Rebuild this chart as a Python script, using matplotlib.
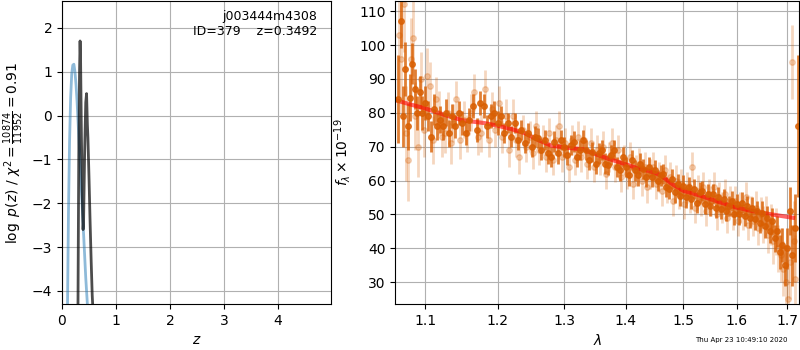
import matplotlib
matplotlib.use('Agg')
import matplotlib.pyplot as plt
from matplotlib.ticker import ScalarFormatter, NullFormatter

# redshift fit: log p(z) and chi2-based curve
z_prior = [0.10, 0.12, 0.14, 0.16, 0.18, 0.20, 0.22, 0.24, 0.26, 0.28, 0.30,
           0.32, 0.34, 0.36, 0.38, 0.40, 0.42, 0.44, 0.46, 0.48]
logp_prior = [-4.6, -2.2, -0.6, 0.4, 0.95, 1.15, 1.17, 1.0, 0.7, 0.3, -0.2,
              -0.7, -1.2, -1.7, -2.2, -2.7, -3.2, -3.7, -4.1, -4.5]

z_fit = [0.295, 0.31, 0.325, 0.335, 0.345, 0.36, 0.375, 0.39, 0.40, 0.42,
         0.44, 0.455, 0.47, 0.48, 0.50, 0.52, 0.54, 0.56, 0.58]
logp_fit = [-4.6, -1.0, 1.0, 1.7, 1.2, -0.5, -1.8, -2.6, -2.4, -0.8,
            0.3, 0.5, -0.2, -0.5, -1.4, -2.4, -3.3, -4.1, -4.6]

# spectrum, first orientation (dark points)
wave_a = [1.065, 1.068, 1.071, 1.074, 1.077, 1.080, 1.083, 1.086, 1.089, 1.093,
          1.096, 1.100, 1.104, 1.108, 1.112, 1.116, 1.120, 1.124, 1.128, 1.132,
          1.136, 1.140, 1.145, 1.150, 1.155, 1.160, 1.165, 1.170, 1.175, 1.180,
          1.185, 1.190, 1.195, 1.200, 1.205, 1.210, 1.215, 1.220, 1.225, 1.230,
          1.235, 1.240, 1.245, 1.250, 1.255, 1.260, 1.265, 1.270, 1.275, 1.280,
          1.285, 1.290, 1.295, 1.300, 1.305, 1.310, 1.315, 1.320, 1.325, 1.330,
          1.335, 1.340, 1.345, 1.350, 1.355, 1.360, 1.365, 1.370, 1.375, 1.380,
          1.385, 1.390, 1.395, 1.400, 1.405, 1.410, 1.415, 1.420, 1.425, 1.430,
          1.435, 1.440, 1.445, 1.450, 1.455, 1.460, 1.465, 1.470, 1.475, 1.480,
          1.485, 1.490, 1.495, 1.500, 1.505, 1.510, 1.515, 1.520, 1.525, 1.530,
          1.535, 1.540, 1.545, 1.550, 1.555, 1.560, 1.565, 1.570, 1.575, 1.580,
          1.585, 1.590, 1.595, 1.600, 1.605, 1.610, 1.615, 1.620, 1.625, 1.630,
          1.635, 1.640, 1.645, 1.650, 1.655, 1.660, 1.665, 1.670, 1.675, 1.680,
          1.685, 1.690, 1.695, 1.700, 1.705, 1.710, 1.715, 1.722]
flux_a = [84, 107, 79, 93, 76, 84.5, 94.5, 87, 80, 86,
          80, 83, 79, 73, 81, 76, 78, 76, 80, 74,
          79, 76, 80, 77, 74, 78, 82, 75, 83, 82,
          76, 79, 80, 77, 79, 74, 77, 73, 77, 72,
          75, 71, 74, 70, 73, 72.5, 69, 72, 68, 67,
          71.5, 68, 72, 70, 67.5, 70.5, 71.5, 67, 69, 72,
          69, 66, 68.5, 65, 68, 69, 65, 64.5, 67.5, 69,
          64, 63, 67, 64, 61.5, 66, 63, 61.5, 65, 63.5,
          61, 64, 61, 63, 60, 61.5, 62, 58, 57.5, 60.5,
          56.5, 59, 55.5, 58.5, 55, 58, 54.5, 57.5, 53.5, 56.5,
          57, 53, 56, 52.5, 56, 52, 55, 51.5, 54.5, 51,
          52.5, 54, 50, 53, 50, 53.5, 49.5, 52.5, 49, 52,
          48.5, 51, 47.5, 50.5, 46.5, 49, 45, 48, 43, 45,
          39, 41, 35, 40, 51, 38, 46, 76]
err_a = [13, 8, 9, 8, 7, 7, 6, 6, 5, 5,
         5, 5, 4.5, 4.5, 4.5, 4, 4, 4, 4, 4,
         3.5, 3.5, 3.5, 3.5, 3.5, 3.5, 3.5, 3.5, 3.5, 3.5,
         3.5, 3.5, 3.5, 3.5, 3, 3, 3, 3, 3, 3,
         3, 3, 3, 3, 3, 3, 3, 3, 3, 3,
         3, 3, 3, 3, 3, 3, 3, 3, 3, 3,
         3, 3, 3, 3, 3, 3, 3, 3, 3, 3,
         3, 3, 3, 3, 3, 3, 3, 3, 3, 3,
         3, 3, 3, 3, 3, 3, 3, 3, 3, 3,
         3, 3, 3, 3, 3, 3, 3, 3, 3, 3,
         3, 3, 3, 3, 3, 3, 3, 3, 3, 3,
         3, 3, 3, 3, 3, 3, 3, 3, 3, 3,
         3, 3, 3, 3.5, 3.5, 3.5, 3.5, 4, 4, 4.5,
         5, 5, 6, 6, 7, 9, 10, 21]

# spectrum, second orientation (light points)
wave_b = [1.066, 1.069, 1.072, 1.075, 1.078, 1.081, 1.084, 1.087, 1.091, 1.094,
          1.098, 1.102, 1.106, 1.110, 1.114, 1.118, 1.122, 1.126, 1.130, 1.134,
          1.138, 1.142, 1.147, 1.152, 1.157, 1.162, 1.167, 1.172, 1.177, 1.182,
          1.187, 1.192, 1.197, 1.202, 1.207, 1.212, 1.217, 1.222, 1.227, 1.232,
          1.237, 1.242, 1.247, 1.252, 1.257, 1.262, 1.267, 1.272, 1.277, 1.282,
          1.287, 1.292, 1.297, 1.302, 1.307, 1.312, 1.317, 1.322, 1.327, 1.332,
          1.337, 1.342, 1.347, 1.352, 1.357, 1.362, 1.367, 1.372, 1.377, 1.382,
          1.387, 1.392, 1.397, 1.402, 1.407, 1.412, 1.417, 1.422, 1.427, 1.432,
          1.437, 1.442, 1.447, 1.452, 1.457, 1.462, 1.467, 1.472, 1.477, 1.482,
          1.487, 1.492, 1.497, 1.502, 1.507, 1.512, 1.517, 1.522, 1.527, 1.532,
          1.537, 1.542, 1.547, 1.552, 1.557, 1.562, 1.567, 1.572, 1.577, 1.582,
          1.587, 1.592, 1.597, 1.602, 1.607, 1.612, 1.617, 1.622, 1.627, 1.632,
          1.637, 1.642, 1.647, 1.652, 1.657, 1.662, 1.667, 1.672, 1.677, 1.682,
          1.687, 1.692, 1.697, 1.702, 1.706, 1.709, 1.713, 1.717]
flux_b = [103, 96, 112, 74, 66, 96, 102, 79, 70, 90,
          75, 91, 88, 72, 84, 80, 73, 74, 80, 71,
          77, 84, 72, 78, 74, 80, 86, 73, 74, 87,
          72, 81, 75, 83, 73, 79, 69, 79, 72, 67,
          75, 70, 73, 68, 76, 69, 72, 67, 74, 66,
          72, 76, 67, 71, 64, 72, 66, 73, 67, 72,
          65, 71, 64, 69, 66, 70, 62, 67, 71, 64,
          69, 61, 66, 62, 67, 59, 63, 65, 60, 64,
          58, 62, 64, 59, 61, 57, 63, 58, 61, 54,
          60, 56, 59, 53, 58, 55, 64, 52, 57, 54,
          58, 51, 56, 54, 58, 50, 55, 52, 56, 49,
          54, 50, 54, 48, 52, 50, 55, 47, 51, 48,
          52, 46, 50, 47, 50, 44, 47, 42, 45, 40,
          38, 34, 30, 25, 36, 95, 42, 31]
err_b = [18, 16, 14, 14, 12, 12, 11, 10, 9, 8,
         8, 8, 7, 7, 6.5, 6.5, 6, 6, 6, 6,
         5.5, 5.5, 5.5, 5.5, 5.5, 5.5, 5.5, 5.5, 5.5, 5.5,
         5, 5, 5, 5, 5, 5, 5, 5, 5, 5,
         4.5, 4.5, 4.5, 4.5, 4.5, 4.5, 4.5, 4.5, 4.5, 4.5,
         4.5, 4.5, 4.5, 4.5, 4.5, 4.5, 4.5, 4.5, 4.5, 4.5,
         4.5, 4.5, 4.5, 4.5, 4.5, 4.5, 4.5, 4.5, 4.5, 4.5,
         4.5, 4.5, 4.5, 4.5, 4.5, 4.5, 4.5, 4.5, 4.5, 4.5,
         4.5, 4.5, 4.5, 4.5, 4.5, 4.5, 4.5, 4.5, 4.5, 4.5,
         4.5, 4.5, 4.5, 4.5, 4.5, 4.5, 4.5, 4.5, 4.5, 4.5,
         4.5, 4.5, 4.5, 4.5, 4.5, 4.5, 4.5, 4.5, 4.5, 4.5,
         4.5, 4.5, 4.5, 4.5, 4.5, 4.5, 4.5, 4.5, 4.5, 4.5,
         5, 5, 5, 5.5, 5.5, 5.5, 6, 6.5, 7, 7,
         8, 8, 9, 10, 11, 11, 12, 13]

# best-fit model
wave_model = [1.065, 1.08, 1.10, 1.12, 1.15, 1.18, 1.20, 1.22, 1.24, 1.26,
              1.28, 1.30, 1.33, 1.35, 1.37, 1.40, 1.42, 1.44, 1.46, 1.48,
              1.50, 1.53, 1.56, 1.60, 1.63, 1.66, 1.69, 1.712]
flux_model = [83.5, 82.5, 81.3, 79.8, 77.8, 77.0, 76.2, 75.2, 74.0, 72.0,
              70.3, 69.8, 69.2, 67.8, 66.5, 64.8, 63.6, 62.8, 61.6, 59.0,
              57.0, 55.6, 54.0, 52.0, 51.0, 50.2, 49.5, 49.0]

fig = plt.figure(figsize=(8, 3.5), dpi=100)

ax1 = fig.add_axes([0.0775, 0.131, 0.336, 0.866])
ax1.plot(z_prior, logp_prior, color='#1f77b4', alpha=0.5, lw=2)
ax1.plot(z_fit, logp_fit, color='k', alpha=0.7, lw=2)
ax1.set_xlim(0, 4.98)
ax1.set_ylim(-4.3, 2.61)
ax1.set_xticks([0, 1, 2, 3, 4])
ax1.grid(True)
ax1.set_xlabel('$z$')
ax1.set_ylabel(r'$\log\ p(z)$' + ' / ' + r'$\chi^2=\frac{10874}{11952}=0.91$')
ax1.text(0.95, 0.97, 'j003444m4308\nID=379    z=0.3492', transform=ax1.transAxes,
         ha='right', va='top', fontsize=9)

ax2 = fig.add_axes([0.494, 0.131, 0.505, 0.866])
ax2.errorbar(wave_b, flux_b, err_b, marker='o', ms=4, linestyle='none',
             color='#d95f02', alpha=0.25, elinewidth=2)
ax2.errorbar(wave_a, flux_a, err_a, marker='o', ms=4, linestyle='none',
             color='#d95f02', alpha=0.8, elinewidth=2)
ax2.plot(wave_model, flux_model, color='r', alpha=0.6, lw=3)
ax2.set_xscale('log')
ax2.set_xlim(1.061, 1.7247)
ax2.set_ylim(23.5, 113)
ax2.set_xticks([1.1, 1.2, 1.3, 1.4, 1.5, 1.6, 1.7])
ax2.xaxis.set_major_formatter(ScalarFormatter())
ax2.xaxis.set_minor_formatter(NullFormatter())
ax2.minorticks_off()
ax2.grid(True)
ax2.set_xlabel(r'$\lambda$')
ax2.set_ylabel(r'$f_\lambda \times 10^{-19}$')

fig.text(0.985, 0.02, 'Thu Apr 23 10:49:10 2020', ha='right', va='bottom', fontsize=5)

fig.savefig('out.png')
